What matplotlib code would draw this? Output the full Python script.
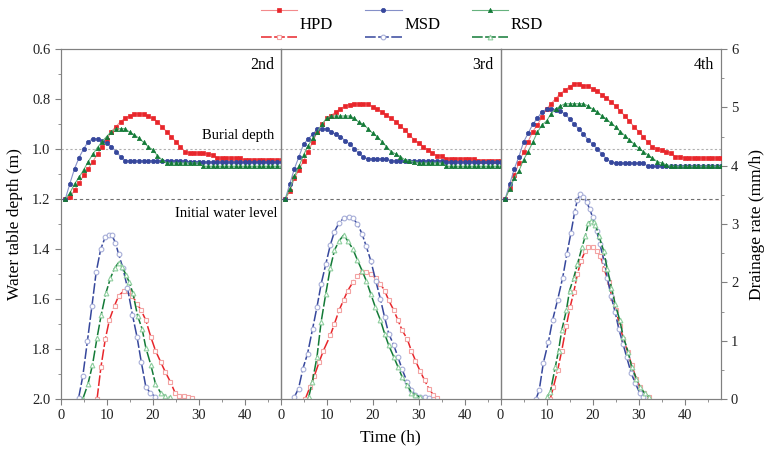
import numpy as np
import matplotlib
matplotlib.use("Agg")
import matplotlib.pyplot as plt
from matplotlib.lines import Line2D
from matplotlib.legend_handler import HandlerBase
from matplotlib.ticker import MultipleLocator

plt.rcParams['font.family'] = ['Liberation Serif', 'DejaVu Serif']

#Data: water table depth (m), one value per hour starting at t = 1 h
panel_names = ["2nd", "3rd", "4th"]
series_names = ["HPD", "MSD", "RSD"]

hpd_2nd = [1.20, 1.193, 1.165, 1.135, 1.105, 1.078, 1.05, 1.02, 0.99, 0.963,
           0.93, 0.911, 0.89, 0.877, 0.868, 0.86, 0.86, 0.86, 0.868, 0.877,
           0.89, 0.911, 0.93, 0.95, 0.97, 0.99, 1.01, 1.016, 1.016, 1.016,
           1.016, 1.02, 1.023, 1.036, 1.036, 1.036, 1.036, 1.036, 1.036, 1.044,
           1.044, 1.044, 1.044, 1.044, 1.044, 1.044, 1.044, 1.044]
msd_2nd = [1.20, 1.138, 1.079, 1.034, 0.999, 0.970, 0.959, 0.959, 0.968, 0.977,
           0.99, 1.01, 1.03, 1.047, 1.047, 1.047, 1.047, 1.047, 1.047, 1.047,
           1.047, 1.047, 1.047, 1.047, 1.047, 1.047, 1.047, 1.052, 1.052, 1.052,
           1.052, 1.052, 1.052, 1.052, 1.052, 1.052, 1.052, 1.052, 1.052, 1.052,
           1.052, 1.052, 1.052, 1.052, 1.052, 1.052, 1.052, 1.052]
rsd_2nd = [1.20, 1.176, 1.14, 1.113, 1.083, 1.05, 1.02, 0.994, 0.970, 0.950,
           0.930, 0.919, 0.919, 0.919, 0.933, 0.943, 0.957, 0.973, 0.99, 1.003,
           1.026, 1.043, 1.056, 1.056, 1.056, 1.056, 1.056, 1.056, 1.056, 1.056,
           1.069, 1.069, 1.069, 1.069, 1.069, 1.069, 1.069, 1.069, 1.069, 1.069,
           1.069, 1.069, 1.069, 1.069, 1.069, 1.069, 1.069, 1.069]

hpd_3rd = [1.20, 1.169, 1.116, 1.083, 1.047, 1.01, 0.97, 0.93, 0.901, 0.877,
           0.866, 0.851, 0.838, 0.829, 0.822, 0.82, 0.82, 0.82, 0.82, 0.831,
           0.840, 0.851, 0.864, 0.877, 0.89, 0.906, 0.924, 0.943, 0.963, 0.976,
           0.99, 1.003, 1.016, 1.027, 1.027, 1.039, 1.039, 1.039, 1.039, 1.039,
           1.039, 1.039, 1.047, 1.047, 1.047, 1.047, 1.047, 1.047]
msd_3rd = [1.20, 1.139, 1.078, 1.03, 0.98, 0.96, 0.941, 0.919, 0.919, 0.919,
           0.93, 0.941, 0.95, 0.967, 0.98, 0.999, 1.017, 1.033, 1.039, 1.039,
           1.039, 1.039, 1.039, 1.047, 1.047, 1.047, 1.047, 1.047, 1.047, 1.047,
           1.047, 1.047, 1.047, 1.047, 1.047, 1.052, 1.052, 1.052, 1.052, 1.052,
           1.052, 1.052, 1.052, 1.052, 1.052, 1.052, 1.052, 1.052]
rsd_3rd = [1.20, 1.158, 1.109, 1.069, 1.023, 0.986, 0.957, 0.93, 0.901, 0.877,
           0.868, 0.868, 0.868, 0.868, 0.868, 0.877, 0.893, 0.901, 0.919, 0.937,
           0.950, 0.970, 0.99, 1.01, 1.02, 1.03, 1.043, 1.047, 1.052, 1.056,
           1.056, 1.056, 1.056, 1.056, 1.056, 1.069, 1.069, 1.069, 1.069, 1.069,
           1.069, 1.069, 1.069, 1.069, 1.069, 1.069, 1.069, 1.069]

hpd_4th = [1.20, 1.156, 1.103, 1.056, 1.01, 0.97, 0.93, 0.904, 0.871, 0.840,
           0.818, 0.798, 0.778, 0.765, 0.751, 0.738, 0.738, 0.747, 0.747, 0.758,
           0.768, 0.782, 0.795, 0.811, 0.828, 0.848, 0.867, 0.888, 0.911, 0.93,
           0.95, 0.973, 0.99, 0.999, 1.003, 1.01, 1.016, 1.03, 1.03, 1.036,
           1.036, 1.036, 1.036, 1.036, 1.036, 1.036, 1.036, 1.036]
msd_4th = [1.20, 1.139, 1.078, 1.03, 0.972, 0.937, 0.901, 0.877, 0.851, 0.841,
           0.841, 0.843, 0.846, 0.861, 0.879, 0.901, 0.919, 0.940, 0.963, 0.980,
           0.999, 1.020, 1.039, 1.052, 1.056, 1.056, 1.056, 1.056, 1.056, 1.056,
           1.056, 1.069, 1.069, 1.069, 1.069, 1.069, 1.069, 1.069, 1.069, 1.069,
           1.069, 1.069, 1.069, 1.069, 1.069, 1.069, 1.069, 1.069]
rsd_4th = [1.20, 1.158, 1.116, 1.087, 1.043, 1.01, 0.973, 0.933, 0.904, 0.888,
           0.858, 0.840, 0.828, 0.819, 0.819, 0.819, 0.819, 0.819, 0.828, 0.840,
           0.851, 0.867, 0.880, 0.897, 0.911, 0.93, 0.946, 0.963, 0.980, 0.996,
           1.01, 1.023, 1.036, 1.05, 1.056, 1.063, 1.069, 1.069, 1.069, 1.069,
           1.069, 1.069, 1.069, 1.069, 1.069, 1.069, 1.069, 1.069]

#Data: drainage rate (mm/h) with its own time stamps (h)
hpd_2nd_t = [7.9, 8.75, 9.7, 10.6, 11.7, 12.6, 13.7, 14.6, 15.6, 16.6, 17.5, 18.5,
             19.6, 20.6, 21.7, 22.7, 23.8, 24.9, 25.8, 26.7, 27.7, 28.5]
hpd_2nd_q = [0.0, 0.55, 1.03, 1.36, 1.60, 1.77, 1.85, 1.85, 1.77, 1.63, 1.52, 1.35,
             1.06, 0.83, 0.64, 0.47, 0.30, 0.10, 0.06, 0.05, 0.04, 0.01]
msd_2nd_t = [3.9, 4.8, 5.8, 6.8, 7.7, 8.7, 9.7, 10.6, 11.1, 11.9, 12.6, 13.5,
             14.5, 15.6, 16.6, 17.5, 18.5, 19.5, 20.6]
msd_2nd_q = [0.02, 0.39, 0.99, 1.60, 2.17, 2.57, 2.78, 2.81, 2.81, 2.68, 2.48, 2.25,
             1.91, 1.44, 1.06, 0.64, 0.21, 0.10, 0.04]
rsd_2nd_t = [4.8, 5.9, 6.9, 7.9, 8.8, 9.8, 10.8, 11.7, 12.6, 13.3, 14.2, 14.9,
             15.7, 16.7, 17.7, 18.5, 19.6, 20.6, 21.7, 22.7, 23.8]
rsd_2nd_q = [0.0, 0.25, 0.58, 1.05, 1.44, 1.81, 2.07, 2.24, 2.34, 2.27, 2.13, 2.0,
             1.81, 1.43, 1.20, 0.88, 0.58, 0.26, 0.11, 0.05, 0.03]

hpd_3rd_t = [5.35, 6.4, 7.3, 8.4, 9.3, 10.8, 11.7, 12.7, 13.7, 14.6, 15.7, 16.7,
             17.7, 18.6, 19.6, 20.7, 21.7, 22.6, 23.5, 24.6, 25.5, 26.4, 27.5,
             28.4, 29.3, 30.3, 31.3, 32.2, 33.2, 34.0]
hpd_3rd_q = [0.0, 0.21, 0.39, 0.64, 0.83, 1.09, 1.29, 1.52, 1.70, 1.86, 2.00, 2.11,
             2.17, 2.18, 2.14, 2.07, 1.97, 1.86, 1.69, 1.52, 1.35, 1.18, 1.03,
             0.83, 0.66, 0.48, 0.32, 0.18, 0.07, 0.01]
msd_3rd_t = [2.96, 3.9, 4.84, 5.86, 6.94, 7.88, 8.83, 9.84, 10.8, 11.7, 12.7, 13.7,
             14.8, 15.7, 16.7, 17.7, 18.6, 19.6, 20.7, 21.7, 22.6, 23.5, 24.6,
             25.5, 26.4, 27.5, 28.4, 29.3, 30.3, 31.3, 32.2]
msd_3rd_q = [0.03, 0.18, 0.52, 0.78, 1.20, 1.57, 1.98, 2.32, 2.64, 2.87, 3.02, 3.10,
             3.12, 3.10, 3.00, 2.83, 2.62, 2.37, 2.02, 1.71, 1.40, 1.12, 0.92,
             0.72, 0.51, 0.29, 0.15, 0.07, 0.04, 0.03, 0.01]
rsd_3rd_t = [6.1, 6.9, 7.9, 8.8, 9.8, 10.8, 11.7, 12.7, 13.7, 14.6, 15.7, 16.7,
             17.7, 18.6, 19.6, 20.6, 21.7, 22.6, 23.5, 24.6, 25.5, 26.4, 27.5,
             28.4, 29.3, 30.3]
rsd_3rd_q = [0.03, 0.30, 0.72, 1.32, 1.80, 2.25, 2.55, 2.71, 2.81, 2.71, 2.57, 2.38,
             2.20, 2.03, 1.80, 1.57, 1.35, 1.12, 0.92, 0.72, 0.55, 0.38, 0.24,
             0.11, 0.07, 0.03]

hpd_4th_t = [10.8, 11.5, 12.4, 13.3, 14.3, 15.1, 15.9, 16.7, 17.5, 18.4, 19.1, 20.1,
             20.9, 21.7, 22.5, 23.5, 24.2, 25.1, 25.9, 26.7, 27.6, 28.5, 29.5,
             30.3, 31.2, 32.2]
hpd_4th_q = [0.0, 0.21, 0.49, 0.83, 1.26, 1.57, 1.83, 2.14, 2.37, 2.54, 2.60, 2.60,
             2.54, 2.45, 2.23, 2.00, 1.74, 1.52, 1.26, 1.03, 0.81, 0.58, 0.35,
             0.21, 0.11, 0.04]
msd_4th_t = [7.7, 8.4, 9.3, 10.4, 11.3, 12.4, 13.5, 14.4, 15.3, 16.1, 16.7, 17.3,
             18.0, 18.7, 19.4, 20.0, 20.9, 21.6, 22.5, 23.2, 24.0, 24.9, 25.7,
             26.6, 27.4, 28.4, 29.3, 30.2, 31.0]
msd_4th_q = [0.0, 0.15, 0.62, 0.98, 1.35, 1.70, 2.08, 2.48, 2.85, 3.20, 3.42, 3.51,
             3.47, 3.38, 3.25, 3.12, 2.88, 2.65, 2.37, 2.08, 1.77, 1.49, 1.20,
             0.95, 0.72, 0.44, 0.27, 0.11, 0.04]
rsd_4th_t = [10.1, 10.8, 11.9, 12.6, 13.3, 14.3, 15.0, 15.9, 16.7, 17.7, 18.4, 19.1,
             19.7, 20.2, 20.6, 21.4, 22.4, 23.2, 24.1, 24.9, 25.9, 26.7, 27.7,
             28.5, 29.5, 30.3, 31.3, 32.2]
rsd_4th_q = [0.04, 0.12, 0.55, 0.83, 1.18, 1.52, 1.86, 2.08, 2.31, 2.60, 2.79, 3.02,
             3.05, 3.04, 2.99, 2.79, 2.54, 2.23, 1.91, 1.63, 1.35, 1.06, 0.81,
             0.55, 0.35, 0.21, 0.10, 0.04]

burial_depth = 1.0
initial_level = 1.2

depth_data = [[hpd_2nd, msd_2nd, rsd_2nd],
              [hpd_3rd, msd_3rd, rsd_3rd],
              [hpd_4th, msd_4th, rsd_4th]]
rate_data = [[(hpd_2nd_t, hpd_2nd_q), (msd_2nd_t, msd_2nd_q), (rsd_2nd_t, rsd_2nd_q)],
             [(hpd_3rd_t, hpd_3rd_q), (msd_3rd_t, msd_3rd_q), (rsd_3rd_t, rsd_3rd_q)],
             [(hpd_4th_t, hpd_4th_q), (msd_4th_t, msd_4th_q), (rsd_4th_t, rsd_4th_q)]]

#Styles per treatment: (dark colour, light line colour, pale open marker, marker)
styles = [("#e8262b", "#f38a8c", "#f3a3a3", "s"),
          ("#36479c", "#8590c8", "#a7aed8", "o"),
          ("#137a37", "#66b27e", "#8fcf9f", "^")]

spine_col = "#808080"

fig = plt.figure(figsize=(7.7, 4.55), dpi=100)
left, right = 60.7 / 770, 720.5 / 770
bottom, top = 1 - 399 / 455, 1 - 49 / 455
pw = (right - left) / 3

legend_handles = []
for i in range(3):
    ax = fig.add_axes([left + i * pw, bottom, pw, top - bottom])
    ax2 = ax.twinx()
    ax.set_zorder(ax2.get_zorder() + 1)
    ax.patch.set_visible(False)

    #reference lines
    ax.axhline(burial_depth, color="#b0b0b0", lw=0.8, ls=(0, (2, 2)), zorder=1)
    ax.axhline(initial_level, color="#707070", lw=0.8, ls=(0, (3, 2.5)), zorder=1)

    for j in range(3):
        dark, light, pale, mk = styles[j]
        d = depth_data[i][j]
        hours = np.arange(1, len(d) + 1)
        top_line, = ax.plot(hours, d, color=light, lw=0.8, marker=mk, ms=3.1,
                            mfc=dark, mec=dark, mew=0.5, zorder=3)
        t, q = rate_data[i][j]
        bot_line, = ax2.plot(t, q, color=dark, lw=1.1, ls=(0, (7, 1.6)), marker=mk,
                             ms=3.4, mfc="white", mec=pale, mew=0.8, zorder=2)
        if i == 0:
            legend_handles.append((top_line, bot_line))

    ax.set_xlim(0, 47.8)
    ax.set_ylim(2.0, 0.6)
    ax2.set_ylim(0, 6)
    ax.xaxis.set_major_locator(MultipleLocator(10))
    ax.xaxis.set_minor_locator(MultipleLocator(5))
    ax.yaxis.set_major_locator(MultipleLocator(0.2))
    ax.yaxis.set_minor_locator(MultipleLocator(0.1))
    ax2.yaxis.set_major_locator(MultipleLocator(1))
    ax2.yaxis.set_minor_locator(MultipleLocator(0.5))

    for a in (ax, ax2):
        for s in a.spines.values():
            s.set_color(spine_col)
            s.set_linewidth(0.8)
        a.tick_params(which="both", direction="out", color=spine_col, labelsize=10.5,
                      labelcolor="#222222")
        a.tick_params(which="major", length=4)
        a.tick_params(which="minor", length=2.5)

    if i > 0:
        ax.tick_params(axis="y", which="both", left=False, labelleft=False)
    if i < 2:
        ax2.tick_params(axis="y", which="both", right=False, labelright=False)
    ax.yaxis.set_major_formatter(matplotlib.ticker.FormatStrFormatter("%.1f"))

    ax.text(0.97, 0.955, panel_names[i], transform=ax.transAxes, ha="right",
            va="center", fontsize=11.5)
    if i == 0:
        ax.text(46.5, 0.945, "Burial depth", ha="right", va="center", fontsize=10.5)
        ax.text(47.2, 1.257, "Initial water level", ha="right", va="center", fontsize=10.5)


class HandlerPair(HandlerBase):
    #two stacked sample lines: filled-marker line above, open-marker dashed line below
    def create_artists(self, legend, orig_handle, xdescent, ydescent, width, height,
                       fontsize, trans):
        xs = [-xdescent, -xdescent + width / 2, -xdescent + width]
        arts = []
        for src, frac in zip(orig_handle, (1.2, -0.2)):
            y = -ydescent + height * frac
            ln = Line2D(xs, [y] * 3)
            ln.update_from(src)
            ln.set_markevery([1])
            ln.set_clip_on(False)
            ln.set_clip_box(None)
            ln.set_transform(trans)
            arts.append(ln)
        return arts


fig.legend(legend_handles, series_names, handler_map={tuple: HandlerPair()},
           loc="upper center", bbox_to_anchor=(0.522, 1.003), ncol=3, frameon=False,
           fontsize=12, handlelength=2.2, handleheight=1.4, handletextpad=0.15,
           columnspacing=1.9)

fig.text(15 / 770, (bottom + top) / 2, "Water table depth (m)", rotation=90,
         ha="center", va="center", fontsize=12.5)
fig.text(757 / 770, (bottom + top) / 2, "Drainage rate (mm/h)", rotation=90,
         ha="center", va="center", fontsize=12.5)
fig.text(390 / 770, 1 - 437 / 455, "Time (h)", ha="center", va="center", fontsize=12.5)

fig.savefig("out.png", dpi=100)
